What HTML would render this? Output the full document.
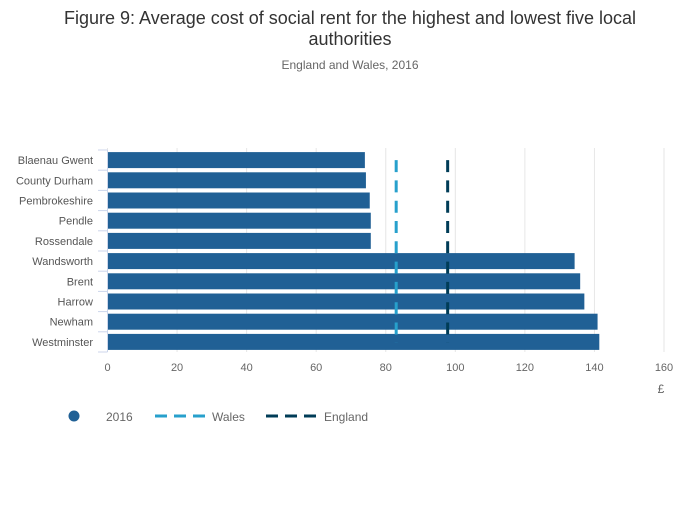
<!DOCTYPE html>
<html><head><meta charset="utf-8"><style>
body{margin:0;background:#fff;font-family:"Liberation Sans",sans-serif}
svg text{font-family:"Liberation Sans",sans-serif}
</style></head><body>
<svg width="700" height="502" id="c">
<text x="350" y="24" text-anchor="middle" font-size="18" fill="#333">Figure 9: Average cost of social rent for the highest and lowest five local</text>
<text x="350" y="45" text-anchor="middle" font-size="18" fill="#333">authorities</text>
<text x="350" y="69" text-anchor="middle" font-size="12" fill="#666">England and Wales, 2016</text>
<g id="grid"></g><g id="bars"></g><g id="refs"></g><g id="axes"></g>
<text x="661" y="393" text-anchor="middle" font-size="12" fill="#666">£</text>
<g>
<circle cx="74" cy="416" r="5.5" fill="#206095"/>
<text x="106" y="421" font-size="12" fill="#666">2016</text>
<line x1="155" y1="416" x2="206" y2="416" stroke="#27a0cc" stroke-width="3" stroke-dasharray="12,7"/>
<text x="212" y="421" font-size="12" fill="#666">Wales</text>
<line x1="266" y1="416" x2="318" y2="416" stroke="#003c57" stroke-width="3" stroke-dasharray="12,7"/>
<text x="324" y="421" font-size="12" fill="#666">England</text>
</g>
</svg>
<script>
const categories=["Blaenau Gwent","County Durham","Pembrokeshire","Pendle","Rossendale","Wandsworth","Brent","Harrow","Newham","Westminster"];
const values=[74.0,74.3,75.4,75.7,75.7,134.3,135.9,137.1,140.9,141.4];
const walesValue=83.0;
const englandValue=97.8;
const xTicks=[0,20,40,60,80,100,120,140,160];
const NS="http://www.w3.org/2000/svg";
const x0=107.5,x1=664,yTop=150,yBot=352,xmax=160;
const xs=v=>x0+(x1-x0)*v/xmax;
const band=(yBot-yTop)/categories.length;
const yc=i=>yTop+band*(i+0.5);
function mk(tag,attrs,parent){const e=document.createElementNS(NS,tag);for(const k in attrs)e.setAttribute(k,attrs[k]);document.getElementById(parent).appendChild(e);return e;}
xTicks.forEach(t=>{
  const g=mk('line',{x1:xs(t),x2:xs(t),y1:yTop-2,y2:yBot,stroke:'#e6e6e6','stroke-width':1},'grid');
  
  
  const tx=mk('text',{x:xs(t),y:371,'text-anchor':'middle','font-size':11,fill:'#666'},'axes');
  tx.textContent=t;
  
  
});
categories.forEach((c,i)=>{
  const r=mk('rect',{x:x0,y:yc(i)-8,width:xs(values[i])-x0,height:16,fill:'#206095'},'bars');
  
  
  const t=mk('text',{x:93,y:yc(i)+4,'text-anchor':'end','font-size':11,fill:'#555'},'axes');
  t.textContent=c;
  
  
});
for(let i=0;i<=categories.length;i++){
  const tk=mk('line',{x1:98,x2:x0,y1:yTop+band*i,y2:yTop+band*i,stroke:'#ccd6eb','stroke-width':1},'axes');
  
  
}
const ax=mk('line',{x1:x0,x2:x0,y1:yTop,y2:yBot,stroke:'#ccd6eb','stroke-width':1},'axes');


const w=mk('line',{x1:xs(walesValue),x2:xs(walesValue),y1:yc(0),y2:yc(categories.length-1)+1,stroke:'#27a0cc','stroke-width':3,'stroke-dasharray':'12,8.3'},'refs');


const e=mk('line',{x1:xs(englandValue),x2:xs(englandValue),y1:yc(0),y2:yc(categories.length-1)+1,stroke:'#003c57','stroke-width':3,'stroke-dasharray':'12,8.3'},'refs');


</script>
</body></html>
